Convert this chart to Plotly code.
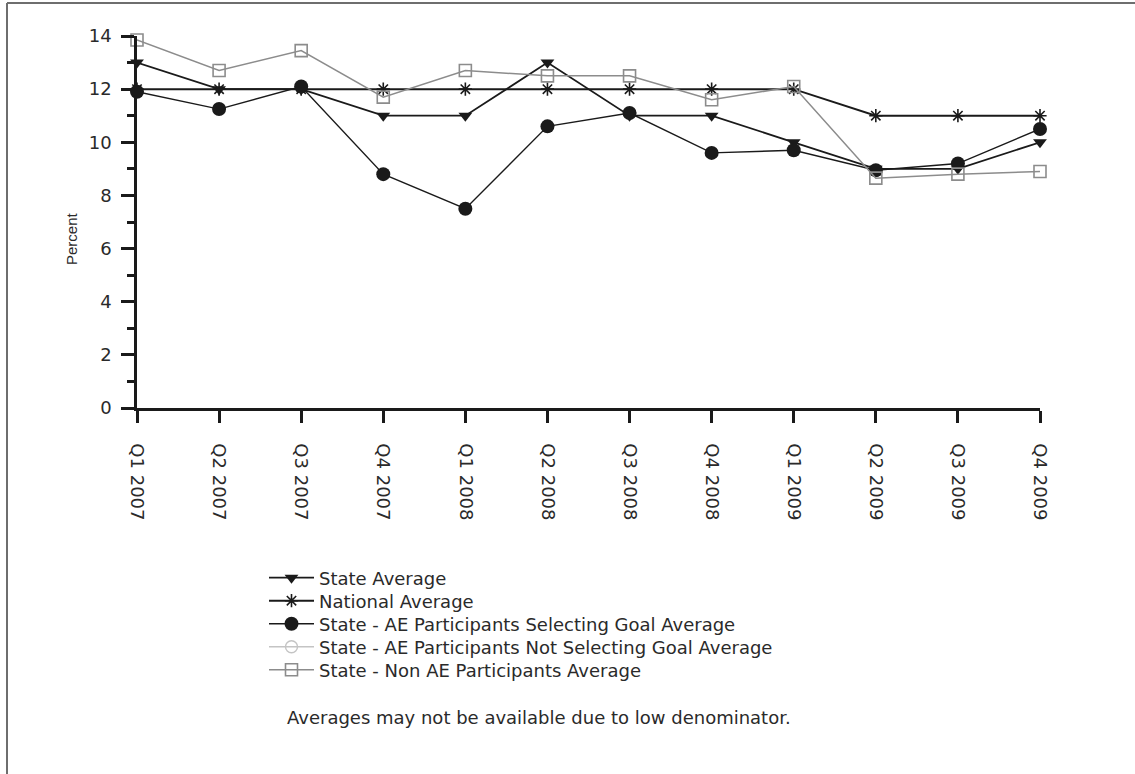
import plotly.graph_objects as go

quarters = ["Q1 2007", "Q2 2007", "Q3 2007", "Q4 2007", "Q1 2008", "Q2 2008",
            "Q3 2008", "Q4 2008", "Q1 2009", "Q2 2009", "Q3 2009", "Q4 2009"]
state_avg = [13, 12, 12, 11, 11, 13, 11, 11, 10, 9, 9, 10]
national_avg = [12, 12, 12, 12, 12, 12, 12, 12, 12, 11, 11, 11]
ae_selecting = [11.9, 11.25, 12.1, 8.8, 7.5, 10.6, 11.1, 9.6, 9.7, 8.95, 9.2, 10.5]
ae_not_selecting = [None] * 12
non_ae = [13.85, 12.7, 13.45, 11.7, 12.7, 12.5, 12.5, 11.6, 12.1, 8.65, 8.8, 8.9]

FONT = "DejaVu Sans, Verdana, sans-serif"
INK = "#1a1a1a"
TXT = "#2a2a2a"

# plot area geometry (pixels)
W, H = 1135, 774
L, R, T, B = 137, 1040, 36, 408


def px(x):
    return (x - L) / (R - L)


def py(y):
    return (B - y) / (B - T)


fig = go.Figure()
fig.add_trace(go.Scatter(
    x=quarters, y=state_avg, name="State Average", mode="lines+markers",
    line=dict(color=INK, width=1.8), legend="legend",
    marker=dict(symbol="triangle-down", size=12, color=INK)))
fig.add_trace(go.Scatter(
    x=quarters, y=national_avg, name="National Average", mode="lines+markers",
    line=dict(color=INK, width=2), legend="legend2",
    marker=dict(symbol="asterisk-open", size=11, color=INK,
                line=dict(color=INK, width=1.6))))
fig.add_trace(go.Scatter(
    x=quarters, y=ae_selecting, name="State - AE Participants Selecting Goal Average",
    mode="lines+markers", legend="legend3",
    line=dict(color=INK, width=1.4),
    marker=dict(symbol="circle", size=14, color=INK)))
fig.add_trace(go.Scatter(
    x=quarters, y=ae_not_selecting, name="State - AE Participants Not Selecting Goal Average",
    mode="lines+markers", legend="legend4",
    line=dict(color="#c4c4c4", width=1.4),
    marker=dict(symbol="circle-open", size=12, color="#c4c4c4",
                line=dict(color="#c4c4c4", width=1.4))))
fig.add_trace(go.Scatter(
    x=quarters, y=non_ae, name="State - Non AE Participants Average",
    mode="lines+markers", legend="legend5",
    line=dict(color="#8c8c8c", width=1.5),
    marker=dict(symbol="square-open", size=12, color="#8c8c8c",
                line=dict(color="#8c8c8c", width=1.6))))

legend_rows = [578, 601, 624, 647, 670]
legends = {}
for i, yrow in enumerate(legend_rows):
    key = "legend" if i == 0 else f"legend{i + 1}"
    legends[key] = dict(
        x=px(264), y=py(yrow), xanchor="left", yanchor="middle",
        font=dict(family=FONT, size=18, color=TXT),
        bgcolor="rgba(0,0,0,0)", itemwidth=45, borderwidth=0,
    )

fig.update_layout(
    width=W, height=H,
    margin=dict(l=L, r=W - R, t=T, b=H - B, pad=0),
    paper_bgcolor="white", plot_bgcolor="white",
    font=dict(family=FONT, size=18, color=TXT),
    showlegend=True,
    xaxis=dict(
        type="category", range=[0, 11],
        showgrid=False, zeroline=False,
        showline=True, linecolor=INK, linewidth=2.5,
        ticks="outside", ticklen=12, tickwidth=2.5, tickcolor=INK,
        tickangle=90, ticklabelstandoff=17,
        tickfont=dict(family=FONT, size=18, color=TXT),
    ),
    yaxis=dict(
        range=[0, 14], dtick=2,
        showgrid=False, zeroline=False,
        showline=True, linecolor=INK, linewidth=2.5,
        ticks="outside", ticklen=13, tickwidth=2.5, tickcolor=INK,
        minor=dict(dtick=1, ticks="outside", ticklen=7, tickwidth=2.5, tickcolor=INK),
        ticklabelstandoff=6,
        tickfont=dict(family=FONT, size=18, color=TXT),
    ),
    **legends,
)
fig.update_traces(cliponaxis=False)

fig.add_annotation(
    text="Percent", textangle=-90,
    xref="paper", yref="paper", x=px(72), y=py(239),
    xanchor="center", yanchor="middle", showarrow=False,
    font=dict(family="Liberation Sans, Arial, sans-serif", size=15, color=TXT))

fig.add_annotation(
    text="Averages may not be available due to low denominator.",
    xref="paper", yref="paper",
    x=px(285), y=py(717),
    xanchor="left", yanchor="middle", showarrow=False,
    font=dict(family=FONT, size=18, color=TXT))

# outer frame (top and left edges)
fig.add_shape(type="line", xref="paper", yref="paper",
              x0=px(7), x1=px(W), y0=py(3), y1=py(3),
              line=dict(color="#6e6e6e", width=2))
fig.add_shape(type="line", xref="paper", yref="paper",
              x0=px(7), x1=px(7), y0=py(3), y1=py(H),
              line=dict(color="#6e6e6e", width=2))

fig.write_html("out.html", config={"displayModeBar": False},
               post_script="document.body.style.margin='0';document.body.style.overflow='hidden';")
